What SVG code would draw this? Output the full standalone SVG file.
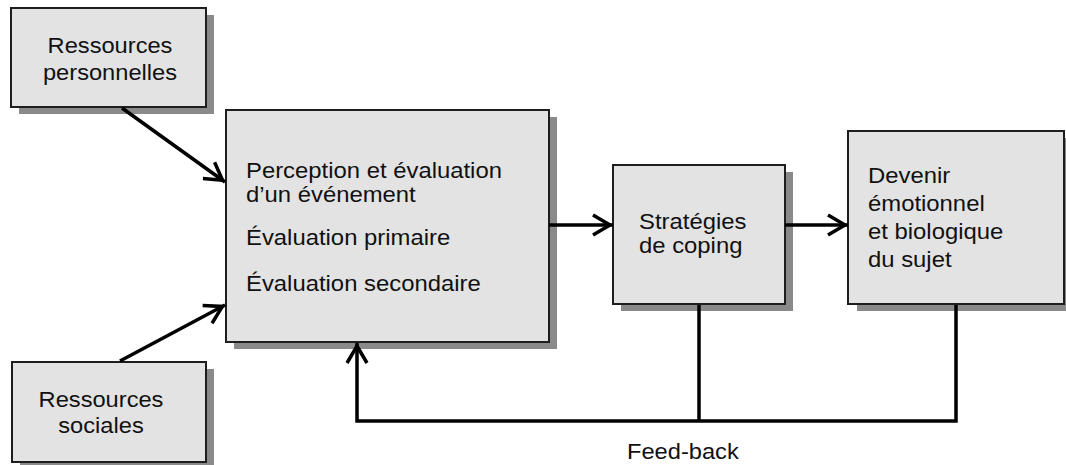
<svg xmlns="http://www.w3.org/2000/svg" width="1066" height="465" viewBox="0 0 1066 465">
<style>
.box{fill:#e3e3e3;stroke:#1e1e1e;stroke-width:2}
.shadow{fill:#8a8a8a}
.t{font-family:"Liberation Sans",Arial,sans-serif;font-size:21.5px;fill:#111}
.m{text-anchor:middle}
.c{fill:none;stroke:#000;stroke-width:3.5}
</style>
<defs>
<marker id="arr" markerUnits="userSpaceOnUse" markerWidth="30" markerHeight="30" refX="0" refY="0" orient="auto" overflow="visible">
<path d="M-20,-10 L-3,0 L-20,10" fill="none" stroke="#000" stroke-width="3.5" stroke-linejoin="miter"/>
</marker>
</defs>
<rect width="1066" height="465" fill="#fff"/>
<g id="node-personnelles">
<rect class="shadow" x="19" y="15" width="195" height="99"/>
<rect class="box" x="11" y="8" width="195" height="99"/>
<g transform="matrix(1.1 0 0 1 110 0)">
<text class="t m" x="0" y="53">Ressources</text>
<text class="t m" x="0" y="80">personnelles</text>
</g>
</g>
<g id="node-sociales">
<rect class="shadow" x="20" y="369" width="194" height="100"/>
<rect class="box" x="12" y="362" width="194" height="100"/>
<g transform="matrix(1.1 0 0 1 101 0)">
<text class="t m" x="0" y="407">Ressources</text>
<text class="t m" x="0" y="433">sociales</text>
</g>
</g>
<g id="node-evaluation">
<rect class="shadow" x="234" y="117" width="323" height="232"/>
<rect class="box" x="226" y="110" width="323" height="232"/>
<g transform="matrix(1.11 0 0 1 246 0)">
<text class="t" x="0" y="178">Perception et évaluation</text>
<text class="t" x="0" y="202">d’un événement</text>
<text class="t" x="0" y="245">Évaluation primaire</text>
<text class="t" x="0" y="291">Évaluation secondaire</text>
</g>
</g>
<g id="node-coping">
<rect class="shadow" x="621" y="172" width="172" height="139"/>
<rect class="box" x="613" y="165" width="172" height="139"/>
<g transform="matrix(1.11 0 0 1 639 0)">
<text class="t" x="0" y="229">Stratégies</text>
<text class="t" x="0" y="253">de coping</text>
</g>
</g>
<g id="node-devenir">
<rect class="shadow" x="857" y="138" width="216" height="173"/>
<rect class="box" x="848" y="131" width="216" height="173"/>
<g transform="matrix(1.11 0 0 1 868 0)">
<text class="t" x="0" y="183">Devenir</text>
<text class="t" x="0" y="211">émotionnel</text>
<text class="t" x="0" y="239">et biologique</text>
<text class="t" x="0" y="267">du sujet</text>
</g>
</g>
<g id="connectors">
<line class="c" x1="122" y1="108" x2="225" y2="182" marker-end="url(#arr)"/>
<line class="c" x1="120" y1="361" x2="225" y2="305" marker-end="url(#arr)"/>
<line class="c" x1="549" y1="225" x2="613" y2="225" marker-end="url(#arr)"/>
<line class="c" x1="785" y1="225" x2="848" y2="225" marker-end="url(#arr)"/>
<line class="c" x1="699" y1="305" x2="699" y2="421"/>
<path class="c" d="M956,305 V421 H357 V343" marker-end="url(#arr)"/>
</g>
<g transform="matrix(1.1 0 0 1 627 0)">
<text class="t" x="0" y="459">Feed-back</text>
</g>
</svg>
